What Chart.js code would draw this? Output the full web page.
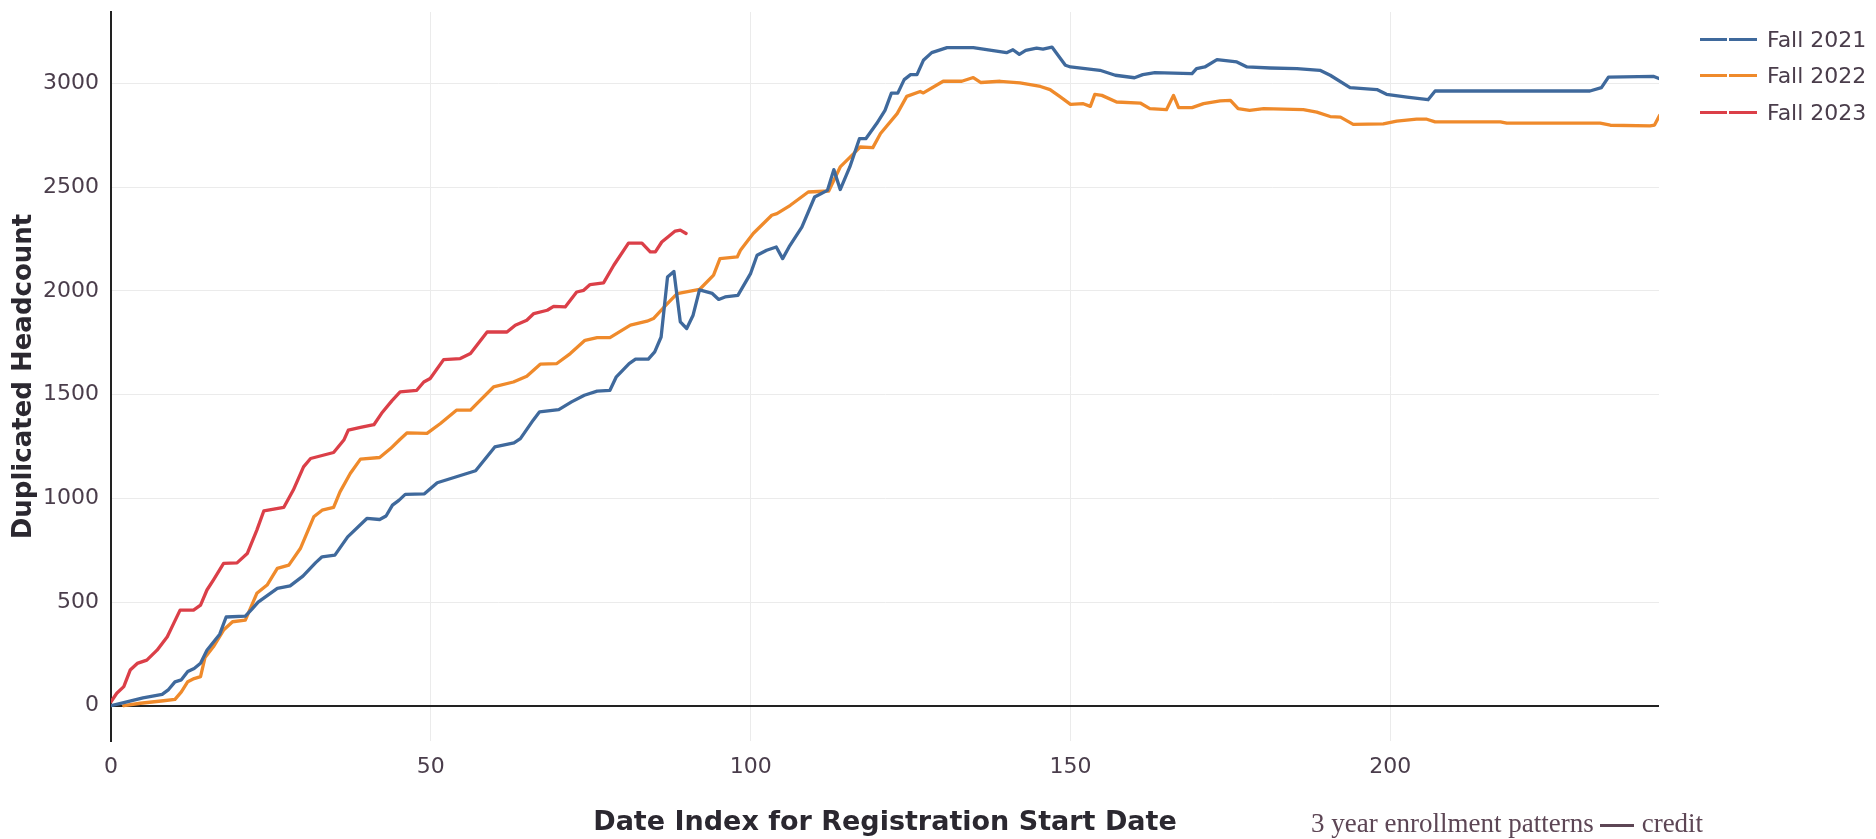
<!DOCTYPE html>
<html>
<head>
<meta charset="utf-8">
<script src="https://cdn.jsdelivr.net/npm/chart.js@4.4.1/dist/chart.umd.min.js"></script>
<style>
  html, body { margin: 0; padding: 0; background: #fff; }
  #wrap { position: relative; width: 1876px; height: 839px; }
  #legend { position: absolute; left: 1700px; top: 21px; font: 22px "DejaVu Sans", sans-serif; color: #4a3d4b; }
  .row { display: flex; align-items: center; height: 36.5px; }
  .swatch { width: 57px; height: 3px; margin-right: 10px; position: relative; }
  .swatch::after { content: ""; position: absolute; left: 27px; top: 0; width: 2px; height: 3px; background: #fff; }
  #note { position: absolute; left: 1311px; top: 808px; font: 27px "Liberation Serif", serif; color: #5d4655; white-space: nowrap; }
  #note .dash { display: inline-block; width: 34px; height: 3px; background: #5d4655; vertical-align: middle; margin: 0 8px 0 6px; }
</style>
</head>
<body>
<div id="wrap">
  <canvas id="chart" width="1876" height="839"></canvas>
  <div id="legend"></div>
  <div id="note">3 year enrollment patterns<span class="dash"></span>credit</div>
</div>
<script>
const $ = (id) => document.getElementById(id);

// Fall 2021
const fall2021Day = [0, 2, 5, 8, 9, 10, 11, 12, 13, 14, 15, 17, 18, 21, 22, 23, 26, 28, 30, 32, 33, 35, 37, 40, 42, 43, 44, 45, 46, 49, 51, 54, 57, 60, 63, 64, 66, 67, 70, 72, 74, 76, 78, 79, 81, 82, 84, 85, 86, 87, 88, 89, 90, 91, 92, 94, 95, 96, 98, 100, 101, 102.5, 104, 105, 106, 108, 110, 112, 113, 114, 115.5, 117, 118, 119.7, 121, 122, 123, 124, 125, 126, 127, 128.3, 130.7, 134.8, 140, 141, 142, 143, 144.7, 145.7, 147.1, 149.2, 150, 154.6, 157, 160, 161.3, 163.2, 169, 169.7, 171, 172.9, 176, 177.6, 181.2, 185.4, 189, 190.6, 193.7, 197.9, 199.4, 202.6, 205.9, 207, 231.2, 233, 234.1, 241.1, 242];
const fall2021Count = [0, 15, 38, 55, 78, 115, 125, 165, 180, 205, 268, 345, 428, 432, 465, 500, 566, 578, 625, 690, 718, 726, 814, 903, 898, 915, 967, 990, 1019, 1022, 1075, 1104, 1133, 1248, 1268, 1288, 1377, 1417, 1428, 1465, 1497, 1517, 1521, 1586, 1650, 1671, 1671, 1706, 1778, 2067, 2094, 1851, 1819, 1883, 2005, 1988, 1959, 1971, 1979, 2085, 2172, 2196, 2212, 2156, 2212, 2308, 2453, 2485, 2585, 2489, 2598, 2734, 2734, 2807, 2871, 2954, 2954, 3019, 3043, 3043, 3112, 3149, 3173, 3173, 3149, 3163, 3141, 3160, 3171, 3166, 3176, 3088, 3080, 3064, 3040, 3028, 3043, 3053, 3048, 3072, 3080, 3115, 3104, 3080, 3075, 3072, 3064, 3040, 2980, 2971, 2948, 2935, 2922, 2964, 2964, 2980, 3031, 3035, 3024];

// Fall 2022
const fall2022Day = [2, 4.6, 8.2, 10, 11, 12, 13, 14, 14.7, 16, 17.6, 19, 21, 22.8, 24.4, 26, 27.8, 29.6, 31.7, 33, 34.8, 35.8, 37.4, 39, 42, 43.7, 45.2, 46.3, 49.4, 51.5, 54, 56.2, 57.2, 59.8, 62.9, 65, 67.1, 69.7, 71.8, 74.1, 76, 78, 81.2, 83.8, 84.8, 86.9, 88.5, 92, 94.2, 95.2, 97.9, 98.4, 100.4, 103.3, 104.1, 106.2, 109, 112.2, 114, 116.1, 117.1, 119.1, 120.3, 122.9, 124.4, 126.5, 127, 130.1, 133, 134.8, 136, 139, 142.1, 145.3, 146.8, 148.3, 150, 152, 153.1, 153.8, 154.9, 157.2, 160.9, 162.4, 165, 166.1, 166.9, 169, 170.8, 173.4, 175, 176.2, 178, 180.2, 186.4, 188.5, 190.6, 192.2, 194.2, 198.9, 201, 204.1, 205.7, 207, 217.2, 218.2, 232.8, 234.4, 240.6, 241.3, 242.1];
const fall2022Count = [0, 12, 24, 31, 67, 116, 131, 140, 233, 284, 365, 405, 413, 542, 582, 662, 678, 758, 911, 943, 956, 1031, 1120, 1189, 1197, 1240, 1285, 1316, 1313, 1361, 1425, 1425, 1457, 1537, 1561, 1589, 1647, 1650, 1698, 1762, 1775, 1775, 1835, 1854, 1867, 1936, 1987, 2007, 2076, 2156, 2164, 2196, 2277, 2365, 2373, 2413, 2477, 2482, 2598, 2662, 2694, 2691, 2759, 2855, 2938, 2962, 2955, 3011, 3011, 3029, 3005, 3011, 3003, 2986, 2971, 2938, 2900, 2903, 2890, 2948, 2943, 2911, 2906, 2879, 2874, 2943, 2884, 2884, 2903, 2916, 2919, 2879, 2871, 2879, 2874, 2862, 2841, 2838, 2803, 2806, 2819, 2828, 2828, 2815, 2815, 2809, 2809, 2799, 2796, 2800, 2847];

// Fall 2023
const fall2023Day = [0, 0.9, 2, 3, 4.1, 5.6, 7.2, 8.8, 9.8, 10.8, 12.9, 14, 15, 16, 17.6, 19.7, 21.3, 22.8, 23.9, 27, 28.5, 30.1, 31.2, 34.8, 36.4, 37.1, 39, 41.1, 42.3, 43.9, 45.2, 47.8, 48.9, 49.9, 52, 54.6, 56.2, 58.8, 61.9, 63.2, 65, 66.1, 68.2, 69.2, 71, 72.8, 73.9, 74.9, 77, 78.6, 80.9, 83, 84.3, 85.1, 86.1, 87.2, 88.2, 89, 89.9];
const fall2023Count = [19, 60, 92, 172, 204, 220, 268, 333, 397, 461, 461, 485, 558, 606, 686, 689, 734, 847, 940, 956, 1040, 1152, 1192, 1221, 1281, 1329, 1342, 1355, 1410, 1470, 1513, 1521, 1561, 1578, 1669, 1674, 1698, 1802, 1802, 1835, 1859, 1891, 1907, 1926, 1923, 1995, 2003, 2031, 2039, 2124, 2231, 2231, 2188, 2188, 2236, 2264, 2289, 2293, 2277];

const seriesLabels = ["Fall 2021", "Fall 2022", "Fall 2023"];
const seriesColors = ["#3f699c", "#ef8a2b", "#db3f48"];
const xTicks = [0, 50, 100, 150, 200];
const yTicks = [0, 500, 1000, 1500, 2000, 2500, 3000];

const TEXT = "#4a3d4b";
const TITLE = "#2b2830";
const FONT = "'DejaVu Sans', sans-serif";

const toPoints = (xs, ys) => xs.map((x, i) => ({ x, y: ys[i] }));
const days = [fall2021Day, fall2022Day, fall2023Day];
const counts = [fall2021Count, fall2022Count, fall2023Count];

const datasets = seriesLabels.map((label, i) => ({
  label,
  data: toPoints(days[i], counts[i]),
  borderColor: seriesColors[i],
  borderWidth: 3.3,
  pointRadius: 0,
  tension: 0,
  fill: false,
  borderJoinStyle: "round",
  borderCapStyle: "round",
}));

$("legend").innerHTML = seriesLabels
  .map((l, i) => `<div class="row"><span class="swatch" style="background:${seriesColors[i]}"></span>${l}</div>`)
  .join("");

// keep the plot box where the reference has it
function noEdgePadding(s) {
  s.paddingTop = 0;
  s.paddingBottom = 0;
  s.paddingLeft = 0;
  s.paddingRight = 0;
}

new Chart($("chart"), {
  type: "line",
  data: { datasets },
  options: {
    responsive: false,
    animation: false,
    layout: { padding: { left: 0, top: 12, right: 217, bottom: 0 } },
    plugins: { legend: { display: false }, tooltip: { enabled: false } },
    scales: {
      x: {
        type: "linear",
        min: 0,
        max: 242,
        afterBuildTicks: (s) => { s.ticks = xTicks.map((v) => ({ value: v })); },
        afterFit: (s) => { s.height = 98; noEdgePadding(s); },
        ticks: { padding: 13, color: TEXT, font: { family: FONT, size: 22 }, callback: (v) => String(v) },
        grid: { color: "#ebebeb", lineWidth: 1, drawTicks: false },
        border: { display: false },
        title: {
          display: true,
          text: "Date Index for Registration Start Date",
          color: TITLE,
          font: { family: FONT, size: 27, weight: "bold" },
          padding: { top: 0, bottom: 0 },
        },
      },
      y: {
        min: -170,
        max: 3345,
        afterBuildTicks: (s) => { s.ticks = yTicks.map((v) => ({ value: v })); },
        afterFit: (s) => { s.width = 111; noEdgePadding(s); },
        ticks: { padding: 12, color: TEXT, font: { family: FONT, size: 22 }, callback: (v) => String(v) },
        grid: {
          color: (c) => (c.tick && c.tick.value === 0 ? "#222" : "#ebebeb"),
          lineWidth: (c) => (c.tick && c.tick.value === 0 ? 2 : 1),
          drawTicks: false,
        },
        border: { display: true, color: "#222", width: 2 },
        title: {
          display: true,
          text: "Duplicated Headcount",
          color: TITLE,
          font: { family: FONT, size: 26, weight: "bold" },
          padding: { top: 9, bottom: 0 },
        },
      },
    },
  },
});
</script>
</body>
</html>
